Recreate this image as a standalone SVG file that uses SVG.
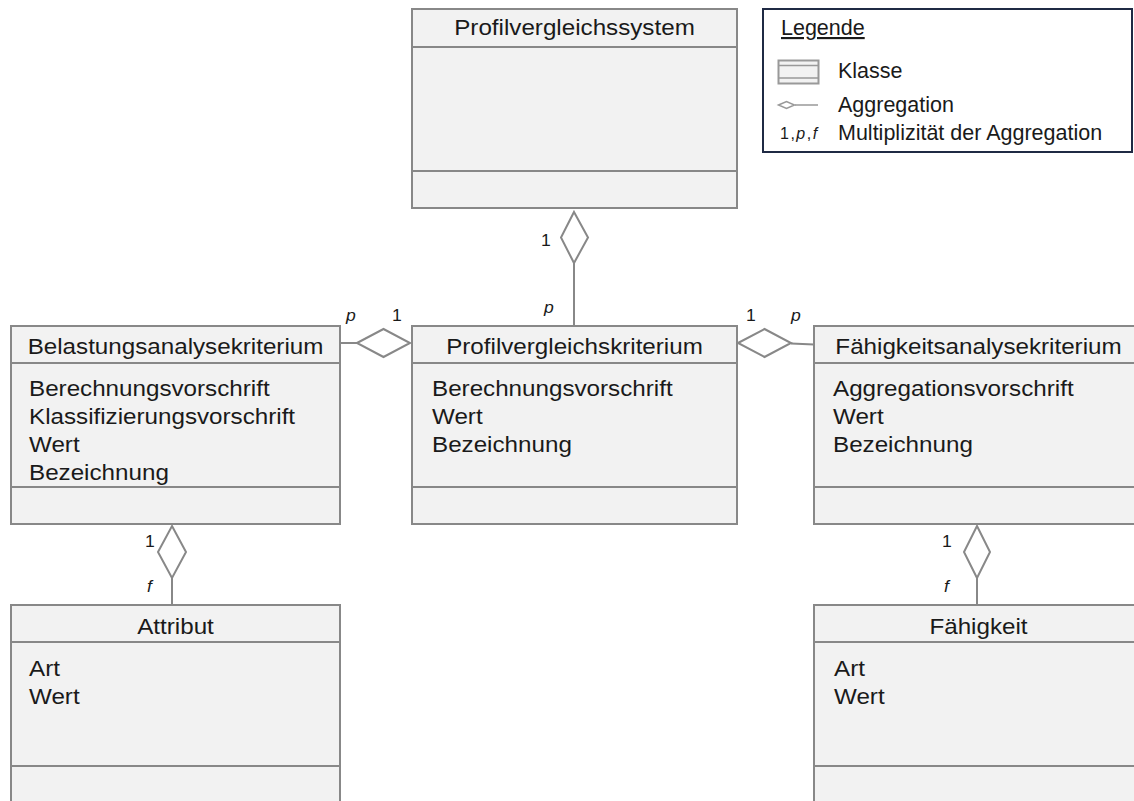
<svg xmlns="http://www.w3.org/2000/svg" width="1134" height="801" viewBox="0 0 1134 801">
<style>
.box{fill:#F2F2F2;stroke:#888888;stroke-width:2}
.div{stroke:#888888;stroke-width:2;fill:none}
.t{font-family:"Liberation Sans",Arial,sans-serif;font-size:22px;fill:#1a1a1a}
.tc{text-anchor:middle}
.m{font-family:"Liberation Sans",Arial,sans-serif;font-size:16px;fill:#1a1a1a}
.i{font-style:italic}
.con{stroke:#888888;stroke-width:2;fill:none}
.dia{stroke:#888888;stroke-width:2;fill:#FFFFFF}
.lg{font-family:"Liberation Sans",Arial,sans-serif;font-size:21.5px;fill:#1a1a1a}
</style>
<rect width="1134" height="801" fill="#FFFFFF"/>

<g id="connectors">
  <line class="con" x1="574" y1="263" x2="574" y2="326"/>
  <polygon class="dia" points="574,212 588,237.5 574,263 561,237.5"/>
  <line class="con" x1="340" y1="343" x2="357" y2="343"/>
  <polygon class="dia" points="357,343 383.5,329 410,343 383.5,357"/>
  <line class="con" x1="791" y1="343.5" x2="814" y2="344.5"/>
  <polygon class="dia" points="738,343 764.5,329 791,343 764.5,357"/>
  <line class="con" x1="172" y1="578" x2="172" y2="605"/>
  <polygon class="dia" points="172,526 186,552 172,578 158,552"/>
  <line class="con" x1="977" y1="578" x2="977" y2="605"/>
  <polygon class="dia" points="977,526 990,552 977,578 964,552"/>
  <text class="m" transform="translate(541,246) scale(1.1,1)">1</text>
  <text class="m i" transform="translate(544,313) scale(1.1,1)">p</text>
  <text class="m i" transform="translate(346,321) scale(1.1,1)">p</text>
  <text class="m" transform="translate(392,321) scale(1.1,1)">1</text>
  <text class="m" transform="translate(746,321) scale(1.1,1)">1</text>
  <text class="m i" transform="translate(791,321) scale(1.1,1)">p</text>
  <text class="m" transform="translate(145,547) scale(1.1,1)">1</text>
  <text class="m i" transform="translate(147,592) scale(1.1,1)">f</text>
  <text class="m" transform="translate(942,547) scale(1.1,1)">1</text>
  <text class="m i" transform="translate(944,592) scale(1.1,1)">f</text>
</g>

<g id="profilvergleichssystem">
  <rect class="box" x="412" y="9" width="325" height="199"/>
  <line class="div" x1="412" y1="47" x2="737" y2="47"/>
  <line class="div" x1="412" y1="171" x2="737" y2="171"/>
  <text class="t tc" transform="translate(574.5,35) scale(1.1,1)">Profilvergleichssystem</text>
</g>

<g id="profilvergleichskriterium">
  <rect class="box" x="412" y="326" width="325" height="198"/>
  <line class="div" x1="412" y1="363" x2="737" y2="363"/>
  <line class="div" x1="412" y1="487" x2="737" y2="487"/>
  <text class="t tc" transform="translate(574.5,354) scale(1.1,1)">Profilvergleichskriterium</text>
  <text class="t" transform="translate(432,396) scale(1.1,1)">Berechnungsvorschrift</text>
  <text class="t" transform="translate(432,424) scale(1.1,1)">Wert</text>
  <text class="t" transform="translate(432,452) scale(1.1,1)">Bezeichnung</text>
</g>

<g id="belastungsanalysekriterium">
  <rect class="box" x="11" y="326" width="329" height="198"/>
  <line class="div" x1="11" y1="363" x2="340" y2="363"/>
  <line class="div" x1="11" y1="487" x2="340" y2="487"/>
  <text class="t tc" transform="translate(175.5,354) scale(1.1,1)">Belastungsanalysekriterium</text>
  <text class="t" transform="translate(29,396) scale(1.1,1)">Berechnungsvorschrift</text>
  <text class="t" transform="translate(29,424) scale(1.1,1)">Klassifizierungsvorschrift</text>
  <text class="t" transform="translate(29,452) scale(1.1,1)">Wert</text>
  <text class="t" transform="translate(29,480) scale(1.1,1)">Bezeichnung</text>
</g>

<g id="faehigkeitsanalysekriterium">
  <rect class="box" x="814" y="326" width="329" height="198"/>
  <line class="div" x1="814" y1="363" x2="1143" y2="363"/>
  <line class="div" x1="814" y1="487" x2="1143" y2="487"/>
  <text class="t tc" transform="translate(978.5,354) scale(1.1,1)">Fähigkeitsanalysekriterium</text>
  <text class="t" transform="translate(833,396) scale(1.1,1)">Aggregationsvorschrift</text>
  <text class="t" transform="translate(833,424) scale(1.1,1)">Wert</text>
  <text class="t" transform="translate(833,452) scale(1.1,1)">Bezeichnung</text>
</g>

<g id="attribut">
  <rect class="box" x="11" y="605" width="329" height="210"/>
  <line class="div" x1="11" y1="642" x2="340" y2="642"/>
  <line class="div" x1="11" y1="766" x2="340" y2="766"/>
  <text class="t tc" transform="translate(175.5,634) scale(1.1,1)">Attribut</text>
  <text class="t" transform="translate(29,676) scale(1.1,1)">Art</text>
  <text class="t" transform="translate(29,704) scale(1.1,1)">Wert</text>
</g>

<g id="faehigkeit">
  <rect class="box" x="814" y="605" width="329" height="210"/>
  <line class="div" x1="814" y1="642" x2="1143" y2="642"/>
  <line class="div" x1="814" y1="766" x2="1143" y2="766"/>
  <text class="t tc" transform="translate(978.5,634) scale(1.1,1)">Fähigkeit</text>
  <text class="t" transform="translate(834,676) scale(1.1,1)">Art</text>
  <text class="t" transform="translate(834,704) scale(1.1,1)">Wert</text>
</g>

<g id="legende">
  <rect x="763" y="9" width="369" height="143" fill="#FFFFFF" stroke="#1F2A44" stroke-width="2"/>
  <text class="lg" x="781" y="35" font-size="22" text-decoration="underline">Legende</text>
  <rect x="778.5" y="60.5" width="40" height="23" fill="#F2F2F2" stroke="#999999" stroke-width="2"/>
  <line x1="778" y1="65.5" x2="819" y2="65.5" stroke="#999999" stroke-width="1.5"/>
  <line x1="778" y1="78" x2="819" y2="78" stroke="#999999" stroke-width="1.5"/>
  <text class="lg" x="838" y="78">Klasse</text>
  <line x1="795" y1="105" x2="818" y2="105" stroke="#999999" stroke-width="1.5"/>
  <polygon points="778.5,105 786.5,101.5 794.5,105 786.5,108.5" fill="#FFFFFF" stroke="#999999" stroke-width="1.5"/>
  <text class="lg" x="838" y="111.5">Aggregation</text>
  <text class="m" x="780" y="139" letter-spacing="1.5">1,<tspan font-style="italic">p</tspan>,<tspan font-style="italic">f</tspan></text>
  <text class="lg" x="838" y="139.5">Multiplizität der Aggregation</text>
</g>
</svg>
